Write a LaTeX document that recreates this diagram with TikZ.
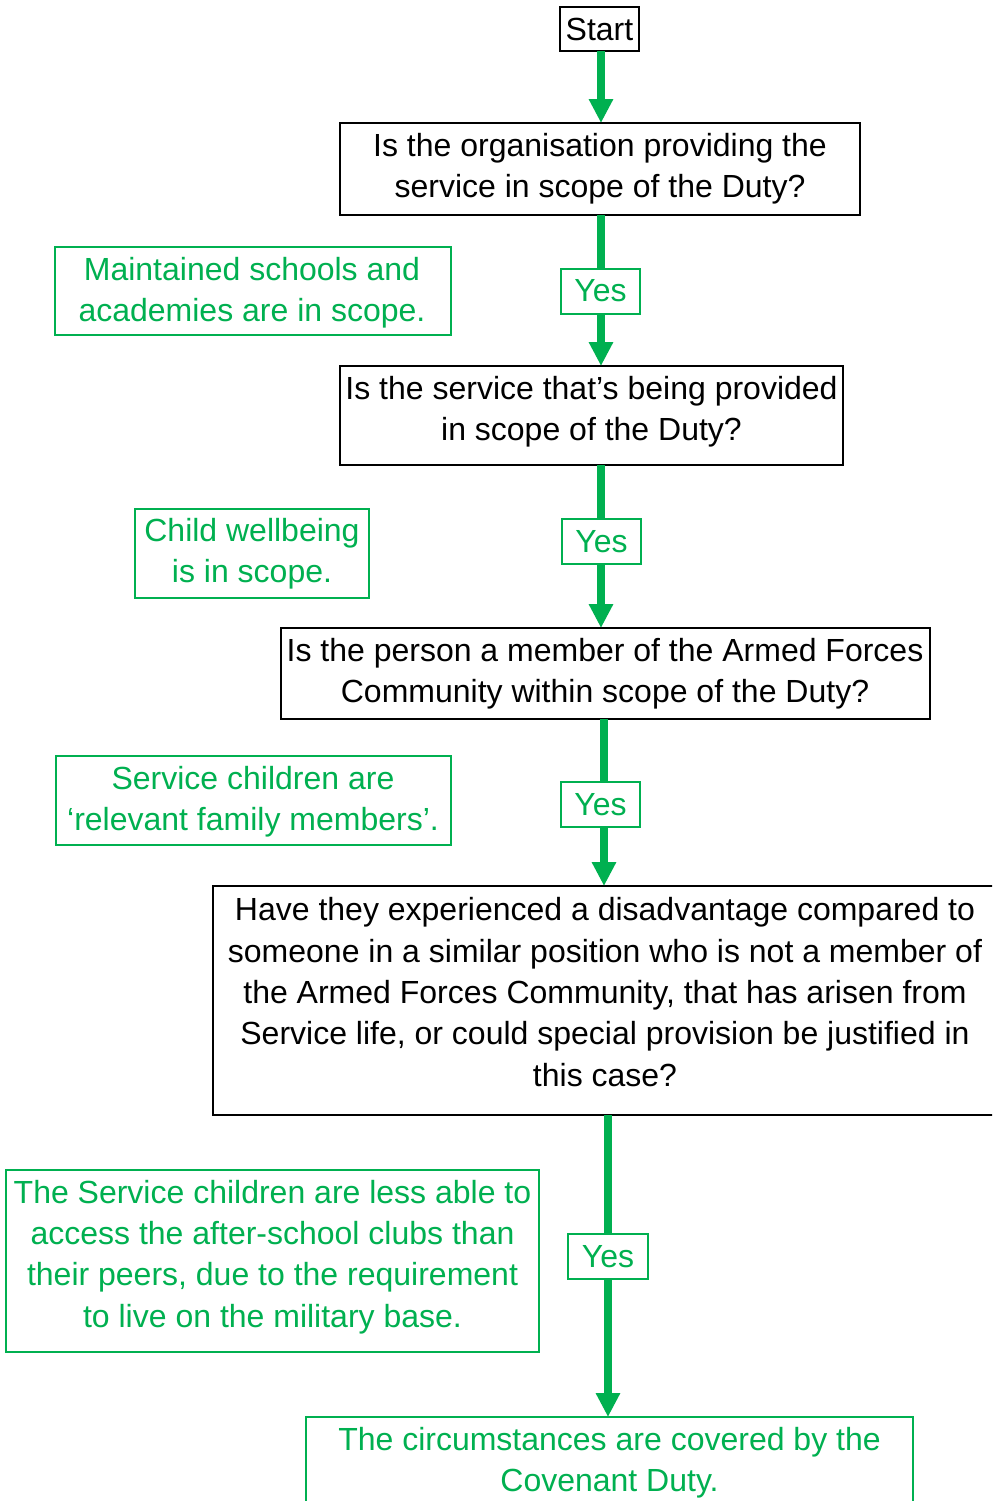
\documentclass[tikz,border=0pt]{standalone}
\usepackage{fontspec}
\setmainfont{Liberation Sans}
\usetikzlibrary{arrows.meta}
\definecolor{ogreen}{HTML}{00B050}
\begin{document}
\begin{tikzpicture}[x=0.5pt,y=-0.5pt,
 every node/.style={font=\fontsize{16pt}{20.65pt}\selectfont, inner sep=0pt, outer sep=0pt},
 qbox/.style={draw=black, line width=1pt, align=center},
 gbox/.style={draw=ogreen, line width=1pt},
 gtext/.style={text=ogreen, align=center},
 btext/.style={text=black, align=center},
 yesbox/.style={draw=ogreen, line width=1pt, fill=white, text=ogreen, minimum width=39.5pt, minimum height=22.5pt},
 conn/.style={draw=ogreen, line width=4pt},
 arr/.style={conn, -{Triangle[width=11.5pt,length=12pt]}}]
\useasboundingbox (0,0) rectangle (992,1501);
\clip (0,0) rectangle (992,1501);
\fill[white] (0,0) rectangle (992,1501);

\coordinate (xa) at (601,0);
\coordinate (xb) at (604,0);
\coordinate (xc) at (608,0);

% question boxes
\node[qbox, minimum width=39.5pt, minimum height=22pt] (start) at (599.5,29) {Start};
\node[qbox, minimum width=260pt, minimum height=46pt] (q1) at (600,169) {};
\node[btext] (q1t) at (600,168.5) {Is the organisation providing the\\service in scope of the Duty?};
\node[qbox, minimum width=251.5pt, minimum height=49.5pt] (q2) at (591.5,415.5) {};
\node[btext] (q2t) at (591.5,411.5) {Is the service that’s being provided\\in scope of the Duty?};
\node[qbox, minimum width=324.5pt, minimum height=45.5pt] (q3) at (605.5,673.5) {};
\node[btext] (q3t) at (605,674) {Is the person a member of the Armed Forces\\Community within scope of the Duty?};
\node[qbox, minimum width=392pt, minimum height=114.5pt] (q4) at (605,1000.5) {};
\node[btext] (q4t) at (605,992) {Have they experienced a disadvantage compared to\\someone in a similar position who is not a member of\\the Armed Forces Community, that has arisen from\\Service life, or could special provision be justified in\\this case?};
\node[gbox, minimum width=303.5pt, minimum height=54pt] (res) at (609.5,1471) {};
\node[gtext] (rest) at (609.5,1462.5) {The circumstances are covered by the\\Covenant Duty.};

% green notes
\node[gbox, minimum width=198pt, minimum height=44pt] (n1) at (253,291) {};
\node[gtext] (n1t) at (252,292.5) {Maintained schools and\\academies are in scope.};
\node[gbox, minimum width=117pt, minimum height=44.5pt] (n2) at (252,553.5) {};
\node[gtext] (n2t) at (252,554) {Child wellbeing\\is in scope.};
\node[gbox, minimum width=197.5pt, minimum height=44.5pt] (n3) at (253.5,800.5) {};
\node[gtext] (n3t) at (253,801.5) {Service children are\\‘relevant family members’.};
\node[gbox, minimum width=266.5pt, minimum height=91pt] (n4) at (272.5,1261) {};
\node[gtext] (n4t) at (272.5,1257) {The Service children are less able to\\access the after-school clubs than\\their peers, due to the requirement\\to live on the military base.};

% yes labels
\node[yesbox] (y1) at (600.5,291) {Yes};
\node[yesbox] (y2) at (601.5,541.5) {Yes};
\node[yesbox] (y3) at (600.5,804.5) {Yes};
\node[yesbox, minimum width=40pt] (y4) at (608,1256.5) {Yes};

% connectors
\draw[arr] (start.south -| xa) -- (q1.north -| xa);
\draw[conn] (q1.south -| xa) -- (y1.north -| xa);
\draw[arr] (y1.south -| xa) -- (q2.north -| xa);
\draw[conn] (q2.south -| xa) -- (y2.north -| xa);
\draw[arr] (y2.south -| xa) -- (q3.north -| xa);
\draw[conn] (q3.south -| xb) -- (y3.north -| xb);
\draw[arr] (y3.south -| xb) -- (q4.north -| xb);
\draw[conn] (q4.south -| xc) -- (y4.north -| xc);
\draw[arr] (y4.south -| xc) -- (res.north -| xc);
\end{tikzpicture}
\end{document}
